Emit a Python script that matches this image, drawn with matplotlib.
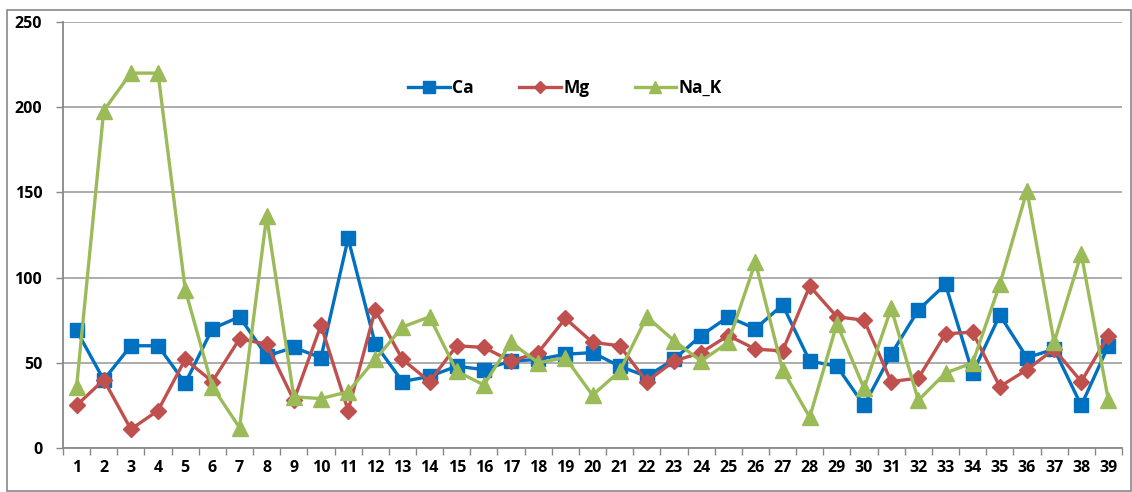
import matplotlib
matplotlib.use("Agg")
import matplotlib.pyplot as plt
from matplotlib.patches import Rectangle
import numpy as np

categories = [str(i) for i in range(1, 40)]
ca = [69, 40, 60, 60, 38, 70, 77, 54, 59, 53, 123, 61, 39, 42, 48, 46, 51, 52, 55,
      56, 48, 42, 52, 66, 77, 70, 84, 51, 48, 25, 55, 81, 96, 44, 78, 53, 58, 25, 60]
mg = [25, 40, 11, 22, 52, 39, 64, 61, 28, 72, 22, 81, 52, 39, 60, 59, 51, 56, 76,
      62, 60, 39, 51, 56, 66, 58, 57, 95, 77, 75, 39, 41, 67, 68, 36, 46, 58, 39, 66]
na_k = [36, 198, 220, 220, 93, 36, 12, 136, 30, 29, 33, 52, 71, 77, 45, 37, 62, 50, 53,
        31, 45, 77, 63, 51, 62, 109, 46, 18, 73, 35, 82, 28, 44, 50, 96, 151, 62, 114, 28]
yticks = [0, 50, 100, 150, 200, 250]

plt.rcParams['font.family'] = ['Open Sans', 'DejaVu Sans']
plt.rcParams['font.weight'] = 'bold'

fig = plt.figure(figsize=(11.32, 4.92), dpi=100)
ax = fig.add_axes([63/1132, 1-448/492, (1122-63)/1132, (448-22)/492])

x = np.arange(1, len(categories) + 1)
ax.plot(x, ca, color='#0070C0', lw=2.4, marker='s', ms=10, label='Ca', zorder=3)
ax.plot(x, mg, color='#C0504D', lw=2.4, marker='D', ms=8, label='Mg', zorder=3)
ax.plot(x, na_k, color='#9BBB59', lw=2.4, marker='^', ms=11, label='Na_K', zorder=3)

ax.set_xlim(0.5, len(categories) + 0.5)
ax.set_ylim(0, 250)
ax.set_yticks(yticks)
ax.set_yticklabels([str(v) for v in yticks], fontsize=11.5, fontweight='bold')
ax.set_xticks(x)
ax.set_xticklabels(categories, fontsize=11.5, fontweight='bold')
ax.set_xticks(np.arange(0.5, len(categories) + 1.5, 1), minor=True)
ax.tick_params(axis='x', which='major', length=0, pad=9)
ax.tick_params(axis='x', which='minor', length=5, color='#888888', width=1)
ax.tick_params(axis='y', which='major', length=5, color='#888888', width=1, pad=10)
ax.yaxis.grid(True, color='#a6a6a6', lw=1.3)
ax.set_axisbelow(True)
for s in ['top', 'right']:
    ax.spines[s].set_visible(False)
for s in ['left', 'bottom']:
    ax.spines[s].set_color('#888888')
    ax.spines[s].set_linewidth(1.3)

leg = ax.legend(loc='center', bbox_to_anchor=(565/1132, 1-88/492), bbox_transform=fig.transFigure,
                ncol=3, frameon=False, fontsize=12.5, handlelength=2.4, columnspacing=2.6,
                handletextpad=0.15, markerscale=0.8)
for t in leg.get_texts():
    t.set_fontweight('bold')

fig.patches.append(Rectangle((7/1132, 1/492), 1124/1132, 481/492, transform=fig.transFigure,
                             fill=False, edgecolor='#888888', lw=1.2))

fig.savefig('out.png', dpi=100)
